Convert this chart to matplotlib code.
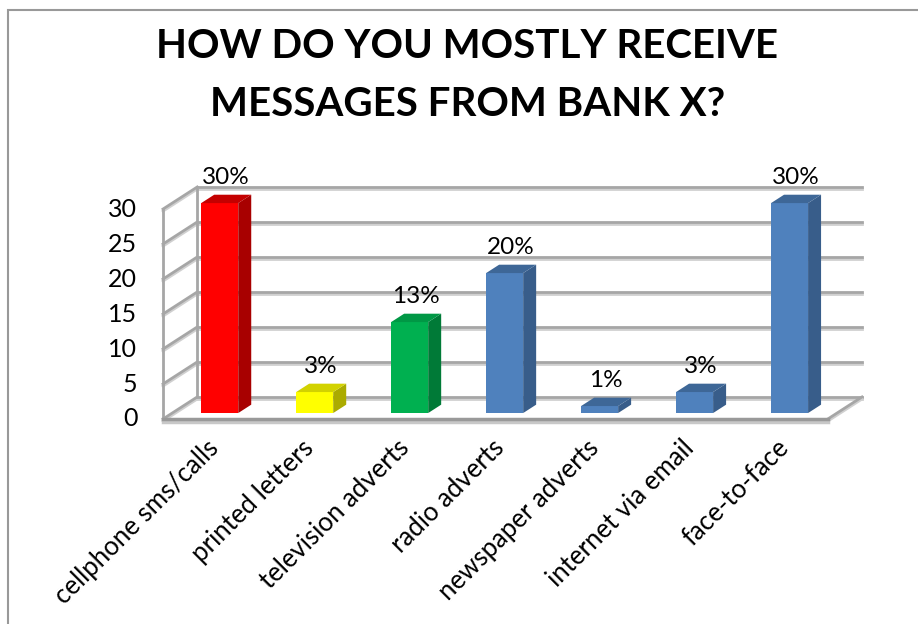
"""Bar chart of how customers receive messages from Bank X"""
import numpy as np
import matplotlib
matplotlib.use('Agg')
import matplotlib.pyplot as plt
from matplotlib import patheffects
from matplotlib.patches import Rectangle, Polygon

plt.rcParams['font.family'] = ['Lato', 'DejaVu Sans']

# survey data
categories = ['cellphone sms/calls', 'printed letters', 'television adverts',
              'radio adverts', 'newspaper adverts', 'internet via email',
              'face-to-face']
values = [30, 3, 13, 20, 1, 3, 30]
yticks = [0, 5, 10, 15, 20, 25, 30]

# colours for the front, side and top of each column
front_colors = ['#FF0000', '#FFFF00', '#00B050', '#4F81BD', '#4F81BD', '#4F81BD', '#4F81BD']
side_colors = ['#A80000', '#ABAB00', '#007A37', '#385D8A', '#385D8A', '#385D8A', '#385D8A']
top_colors = ['#C40000', '#D2D200', '#009845', '#3E6797', '#3E6797', '#3E6797', '#3E6797']

# fake 3d: depth of the box and of each column (data units)
DX, DY = 0.36, 3.15
bar_start = 0.27
bar_depth = 0.38
bar_width = 0.39
grid_color = '#A6A6A6'

fig = plt.figure(figsize=(9.18, 6.24), dpi=100)
ax = fig.add_axes([163/918, 205/624, 699/918, 232/624])
ax.set_xlim(-0.5, len(categories) - 0.5 + DX)
ax.set_ylim(0, max(yticks) + DY)
ax.axis('off')

shadow = [patheffects.SimpleLineShadow(offset=(0, -1.5), shadow_color='#D0D0D0', alpha=1),
          patheffects.Normal()]
x_left = -0.5
x_right = len(categories) - 0.5

# back wall gridlines and left wall
for v in yticks:
    ax.plot([x_left + DX, x_right + DX], [v + DY, v + DY], color=grid_color,
            lw=2, clip_on=False, zorder=1, path_effects=shadow)
    ax.plot([x_left, x_left + DX], [v, v + DY], color=grid_color,
            lw=2, clip_on=False, zorder=1, path_effects=shadow)
    ax.text(x_left - 0.27, v, str(v), ha='right', va='center', fontsize=18)
ax.plot([x_left, x_left], [0, max(yticks)], color=grid_color, lw=2, clip_on=False, zorder=1)
ax.plot([x_left + DX, x_left + DX], [DY, max(yticks) + DY], color=grid_color,
        lw=2, clip_on=False, zorder=1)

# floor
ax.plot([x_right, x_right + DX], [0, DY], color=grid_color, lw=2, clip_on=False,
        zorder=1, path_effects=shadow)
ax.plot([x_left, x_right], [0, 0], color='#999999', lw=2.5, clip_on=False, zorder=5,
        path_effects=[patheffects.SimpleLineShadow(offset=(0, -2), shadow_color='#C8C8C8', alpha=1),
                      patheffects.Normal()])

# columns
xs = np.arange(len(categories))
x0 = xs + bar_start * DX
y0 = bar_start * DY
bdx, bdy = bar_depth * DX, bar_depth * DY
ax.bar(x0, values, width=bar_width, bottom=y0, color=front_colors, zorder=3, clip_on=False)
for i, v in enumerate(values):
    xl = x0[i] - bar_width / 2
    xr = x0[i] + bar_width / 2
    top = y0 + v
    ax.add_patch(Polygon([(xr, y0), (xr + bdx, y0 + bdy), (xr + bdx, top + bdy), (xr, top)],
                         closed=True, facecolor=side_colors[i], zorder=3, clip_on=False))
    ax.add_patch(Polygon([(xl, top), (xr, top), (xr + bdx, top + bdy), (xl + bdx, top + bdy)],
                         closed=True, facecolor=top_colors[i], zorder=3, clip_on=False))
    ax.text(x0[i] + bdx / 2, top + bdy + 1.5, f'{v}%', ha='center', va='baseline',
            fontsize=17.5, zorder=4)

# category labels
for i, cat in enumerate(categories):
    ax.text(i + 0.05, -3.6, cat, rotation=45, ha='right', va='center',
            rotation_mode='anchor', fontsize=18.5)

fig.text(0.509, 0.879, 'HOW DO YOU MOSTLY RECEIVE\nMESSAGES FROM BANK X?',
         ha='center', va='center', fontsize=29, fontweight='bold', linespacing=1.68)

# chart border
fig.add_artist(Rectangle((7.5/918, -0.1), 1.2, 1.1 - 9.5/624, transform=fig.transFigure,
                         fill=False, edgecolor='#999999', lw=1.5))

fig.savefig('out.png', dpi=100)
